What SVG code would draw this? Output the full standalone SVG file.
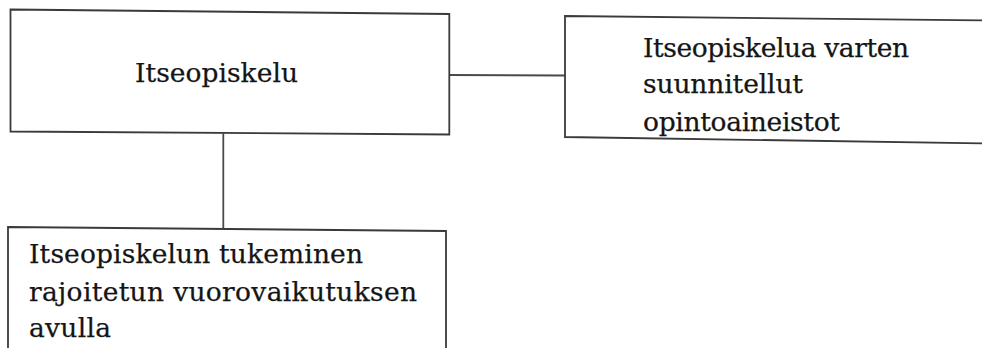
<svg xmlns="http://www.w3.org/2000/svg" width="982" height="348" viewBox="0 0 982 348">
  <style>
    .box { fill: #ffffff; stroke: #3a3a3a; stroke-width: 1.8; }
    .link { fill: none; stroke: #4a4a4a; stroke-width: 1.8; }
    .label { font-family: "DejaVu Serif", "Liberation Serif", serif; font-size: 26.5px; fill: #151515; stroke: #151515; stroke-width: 0.25; }
  </style>
  <rect x="0" y="0" width="982" height="348" fill="#ffffff"/>

  <!-- connectors -->
  <g id="connectors">
    <line class="link" x1="449" y1="75" x2="565" y2="75.5"/>
    <line class="link" x1="223.3" y1="133.5" x2="223.3" y2="228"/>
  </g>

  <!-- main node -->
  <g id="node-itseopiskelu">
    <path class="box" d="M10.5 9.5 L449.3 14 L449.3 134.5 L10.5 131.5 Z"/>
    <text class="label" x="135" y="82" textLength="163" lengthAdjust="spacing">Itseopiskelu</text>
  </g>

  <!-- study materials node (runs off the right edge) -->
  <g id="node-opintoaineistot">
    <path class="box" d="M990 20.5 L565 16 L565 137 L990 143.5"/>
    <text class="label" x="643" y="57" textLength="266" lengthAdjust="spacing">Itseopiskelua varten</text>
    <text class="label" x="643" y="93" textLength="160" lengthAdjust="spacing">suunnitellut</text>
    <text class="label" x="643" y="131" textLength="197" lengthAdjust="spacing">opintoaineistot</text>
  </g>

  <!-- support node (runs off the bottom edge) -->
  <g id="node-tukeminen">
    <path class="box" d="M8 356 L8 227 L446 231 L446 356"/>
    <text class="label" x="29" y="263" textLength="334" lengthAdjust="spacing">Itseopiskelun tukeminen</text>
    <text class="label" x="29" y="301" textLength="388" lengthAdjust="spacing">rajoitetun vuorovaikutuksen</text>
    <text class="label" x="29" y="337" textLength="82" lengthAdjust="spacing">avulla</text>
  </g>
</svg>
